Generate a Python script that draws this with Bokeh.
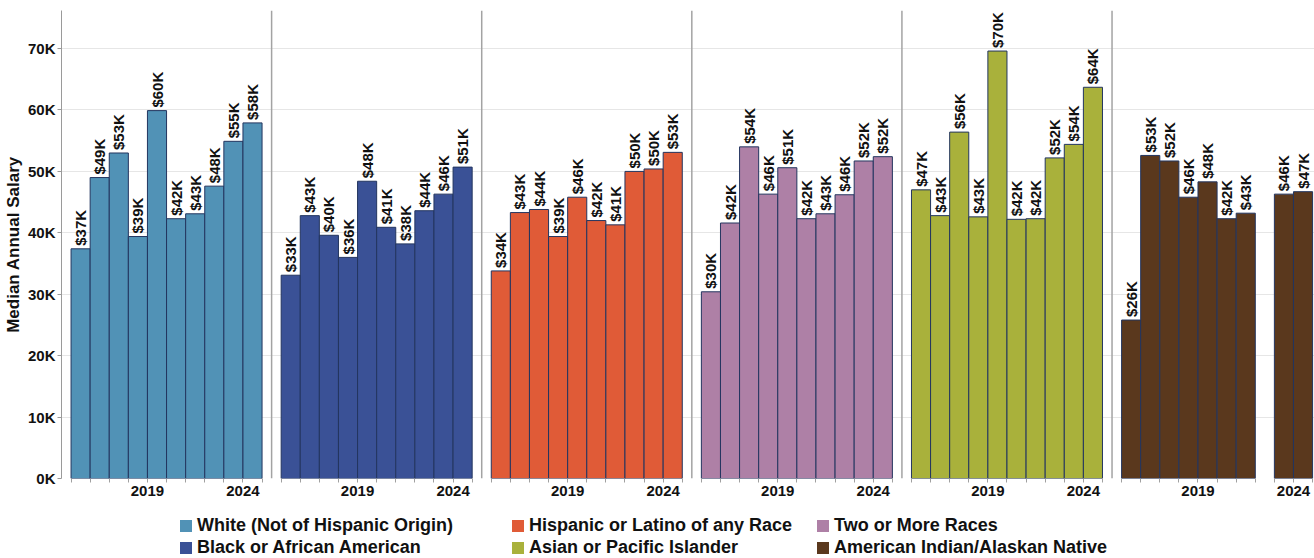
import math
from bokeh.plotting import figure
from bokeh.layouts import column
from bokeh.models import (ColumnDataSource, FixedTicker, Span, LabelSet, Legend,
                          LegendItem, Range1d)
from bokeh.core.properties import value
from bokeh.embed import file_html
from bokeh.resources import INLINE

# ---------------- data ----------------
years = [2015, 2016, 2017, 2018, 2019, 2020, 2021, 2022, 2023, 2024]
tick_years = [2015, 2016, 2017, 2018, 2019, 2020, 2021, 2022, 2023, 2024, 2025]
labelled_years = [2019, 2024]

white = [37.4, 49.0, 53.0, 39.4, 59.9, 42.3, 43.1, 47.6, 54.9, 57.9]
black = [33.1, 42.8, 39.6, 36.0, 48.4, 40.9, 38.2, 43.6, 46.3, 50.7]
hispanic = [33.8, 43.3, 43.8, 39.4, 45.8, 42.0, 41.3, 50.0, 50.4, 53.1]
two_more = [30.4, 41.6, 54.0, 46.3, 50.6, 42.3, 43.1, 46.2, 51.7, 52.4]
asian = [47.0, 42.8, 56.4, 42.6, 69.6, 42.2, 42.3, 52.2, 54.4, 63.7]
am_indian = [25.8, 52.6, 51.7, 45.8, 48.3, 42.3, 43.2, None, 46.3, 46.7]

# panel order (left to right)
panel_names = ["White (Not of Hispanic Origin)", "Black or African American",
               "Hispanic or Latino of any Race", "Two or More Races",
               "Asian or Pacific Islander", "American Indian/Alaskan Native"]
panel_values = [white, black, hispanic, two_more, asian, am_indian]
panel_colors = ["#5192B6", "#3A5196", "#E05B37", "#AE80A6", "#A9B13B", "#5A381D"]

# legend columns (2 rows each)
legend_columns = [["White (Not of Hispanic Origin)", "Black or African American"],
                  ["Hispanic or Latino of any Race", "Asian or Pacific Islander"],
                  ["Two or More Races", "American Indian/Alaskan Native"]]

y_ticks = [0, 10, 20, 30, 40, 50, 60, 70]

FONT = "Liberation Sans"
PANEL_SPAN = 11          # years of axis width per panel
PANEL_START = 2014.5     # axis start year within each panel

def pos(i, yr):
    return i * PANEL_SPAN + (yr - PANEL_START)

# ---------------- main figure ----------------
p = figure(width=1314, height=510, output_backend="svg", toolbar_location=None,
           x_range=Range1d(0, 65.6), y_range=Range1d(0, 76.2),
           min_border_top=10, min_border_bottom=32, min_border_right=0, min_border_left=61)
p.outline_line_color = None
p.background_fill_color = "white"
p.xgrid.grid_line_color = None
p.ygrid.grid_line_color = "#e6e6e6"
p.ygrid.grid_line_width = 1
p.ygrid.ticker = FixedTicker(ticks=y_ticks)

for i, (name, vals, col) in enumerate(zip(panel_names, panel_values, panel_colors)):
    left, right, top, xc, lab = [], [], [], [], []
    for yr, v in zip(years, vals):
        if v is None:
            continue
        left.append(pos(i, yr))
        right.append(pos(i, yr) + 1)
        xc.append(pos(i, yr) + 0.5)
        top.append(v)
        lab.append("$%dK" % int(math.floor(v + 0.5)))
    src = ColumnDataSource(dict(left=left, right=right, top=top, xc=xc, lab=lab))
    p.quad(left="left", right="right", top="top", bottom=0, source=src,
           fill_color=col, line_color="#23355F", line_width=1)
    p.add_layout(LabelSet(x="xc", y="top", text="lab", source=src, angle=math.pi / 2,
                          text_align="left", text_baseline="middle", y_offset=3,
                          text_font=value(FONT), text_font_style="bold",
                          text_font_size="15px", text_color="#111111"))

for i in range(1, len(panel_names)):
    p.add_layout(Span(location=i * PANEL_SPAN, dimension="height",
                      line_color="#a3a3a3", line_width=1.5))

# x axis
xt = []
xover = {}
for i in range(len(panel_names)):
    for yr in tick_years:
        t = pos(i, yr)
        xt.append(t)
        xover[t] = str(yr) if yr in labelled_years else ""
p.xaxis.ticker = FixedTicker(ticks=xt)
p.xaxis.major_label_overrides = xover
p.xaxis.axis_line_color = None
p.xaxis.major_tick_line_color = "#a0a0a0"
p.xaxis.major_tick_out = 4
p.xaxis.major_tick_in = 0
p.xaxis.minor_tick_line_color = None
p.xaxis.major_label_standoff = 3
p.xaxis.major_label_text_font = FONT
p.xaxis.major_label_text_font_style = "bold"
p.xaxis.major_label_text_font_size = "15px"
p.xaxis.major_label_text_color = "#111111"

# y axis
p.yaxis.ticker = FixedTicker(ticks=y_ticks)
p.yaxis.major_label_overrides = {t: "%dK" % t for t in y_ticks}
p.yaxis.axis_label = "Median Annual Salary"
p.yaxis.axis_label_text_font = FONT
p.yaxis.axis_label_text_font_style = "bold"
p.yaxis.axis_label_text_font_size = "17px"
p.yaxis.axis_label_text_color = "#111111"
p.yaxis.axis_label_standoff = 2
p.yaxis.axis_line_color = "#9a9a9a"
p.yaxis.major_tick_line_color = "#9a9a9a"
p.yaxis.major_tick_out = 4
p.yaxis.major_tick_in = 0
p.yaxis.minor_tick_line_color = None
p.yaxis.major_label_standoff = 2
p.yaxis.major_label_text_font = FONT
p.yaxis.major_label_text_font_style = "bold"
p.yaxis.major_label_text_font_size = "15px"
p.yaxis.major_label_text_color = "#111111"

# ---------------- legend strip ----------------
p2 = figure(width=1314, height=48, output_backend="svg", toolbar_location=None,
            x_range=Range1d(0, 1), y_range=Range1d(0, 1),
            min_border_top=0, min_border_bottom=0, min_border_left=0, min_border_right=0)
p2.xaxis.visible = False
p2.yaxis.visible = False
p2.grid.grid_line_color = None
p2.outline_line_color = None

nan = float("nan")
color_of = dict(zip(panel_names, panel_colors))
legend_x = [117, 449, 754]   # offsets from the (aligned) frame left edge
for names, lx in zip(legend_columns, legend_x):
    items = []
    for n in names:
        r = p2.quad(left=[nan], right=[nan], top=[nan], bottom=[nan],
                    fill_color=color_of[n], line_color=None)
        items.append(LegendItem(label=n, renderers=[r]))
    lg = Legend(items=items, orientation="vertical", location=(lx, 0),
                margin=0, padding=0, spacing=1,
                glyph_width=15, glyph_height=15, label_standoff=4, label_height=20,
                label_text_font=FONT, label_text_font_style="bold",
                label_text_font_size="18px", label_text_color="#111111",
                border_line_color=None, background_fill_alpha=0)
    p2.add_layout(lg, "center")

layout = column(p, p2, spacing=0)
open("out.html", "w").write(file_html(layout, INLINE))
